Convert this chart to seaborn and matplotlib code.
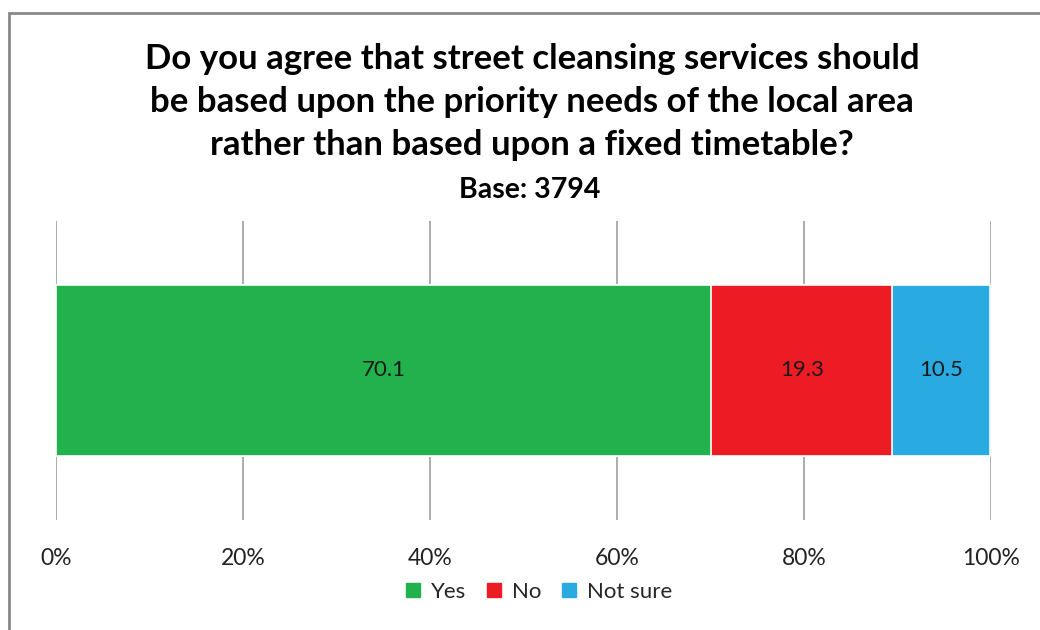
import matplotlib
matplotlib.use("Agg")
import matplotlib.pyplot as plt
import seaborn as sns
import pandas as pd
from matplotlib.patches import Rectangle
from matplotlib.lines import Line2D

categories = ["Yes", "No", "Not sure"]
values = [70.1, 19.3, 10.5]
colors = ["#22B14C", "#ED1C24", "#29ABE2"]
tick_values = [0, 20, 40, 60, 80, 100]
tick_labels = ["0%", "20%", "40%", "60%", "80%", "100%"]
title = ("Do you agree that street cleansing services should\n"
         "be based upon the priority needs of the local area\n"
         "rather than based upon a fixed timetable?")
subtitle = "Base: 3794"

sns.set_theme(style="white")
plt.rcParams["font.family"] = ["Lato", "DejaVu Sans"]

fig = plt.figure(figsize=(10.4, 6.3), dpi=100)
ax = fig.add_axes([56/1040, 1-520/630, (991-56)/1040, (520-221)/630])

cum = []
s = 0
for v in values:
    s += v
    cum.append(s)

df = pd.DataFrame({"row": ["q"] * len(values), "cat": categories, "value": values, "cum": cum})

# vertical gridlines
for t in tick_values:
    ax.axvline(t, color="#A6A6A6", lw=1.3, zorder=0)

# draw cumulative bars from widest to narrowest so they stack visually
for i in reversed(range(len(categories))):
    sub = df.iloc[[i]]
    sns.barplot(data=sub, x="cum", y="row", orient="h", color=colors[i],
                width=0.572, edgecolor="white", linewidth=1.2, saturation=1,
                ax=ax, zorder=2)

# labels centered in segments
left = 0
for v in values:
    ax.text(left + v/2, 0, f"{v:.1f}", ha="center", va="center",
            fontsize=16, color="#1a1a1a", zorder=3)
    left += v

ax.set_xlim(0, 100)
ax.set_ylim(0.5, -0.5)
ax.set_xticks(tick_values)
ax.set_xticklabels(tick_labels, fontsize=16.5, color="#222222")
ax.tick_params(axis="x", length=0, pad=20)
ax.set_yticks([])
ax.set_xlabel("")
ax.set_ylabel("")
for sp in ax.spines.values():
    sp.set_visible(False)

fig.text(532/1040, 1-102/630, title, ha="center", va="center", fontsize=25,
         fontweight="bold", linespacing=1.42, color="#000000")
fig.text(530/1040, 1-190/630, subtitle, ha="center", va="center", fontsize=20.5,
         fontweight="bold", color="#000000")

handles = [Line2D([0], [0], marker="s", linestyle="none", markersize=10.5,
                  markerfacecolor=c, markeredgecolor=c) for c in colors]
fig.legend(handles, categories, loc="center", bbox_to_anchor=(537/1040, 1-592/630),
           ncol=3, frameon=False, fontsize=16, handletextpad=0.3,
           columnspacing=0.75, handlelength=1.0)

# chart border (left and top visible)
fig.add_artist(Rectangle((9/1040, -0.1), 1.2, 1.1 - 13/630, transform=fig.transFigure,
                         fill=False, edgecolor="#888888", lw=2))

fig.savefig("out.png", dpi=100)
